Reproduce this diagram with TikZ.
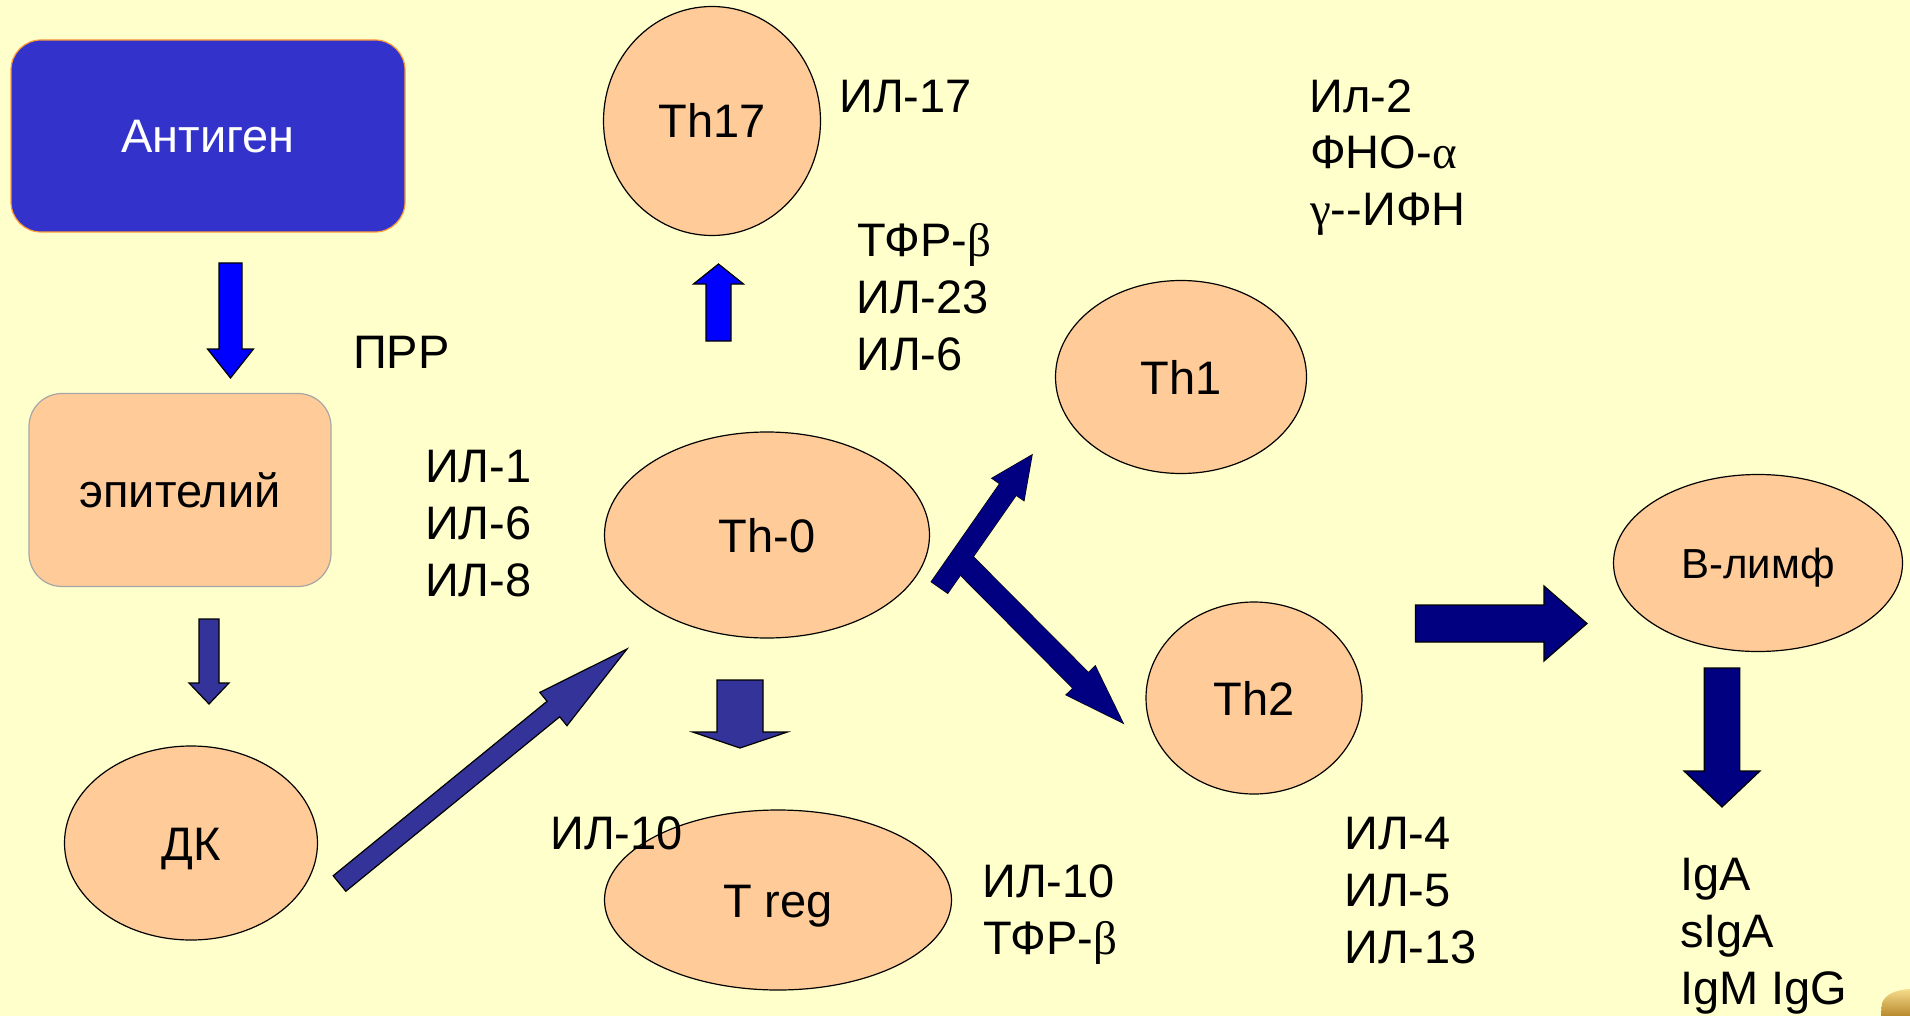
\documentclass[tikz,border=0pt]{standalone}
\usepackage{fontspec}
\setmainfont{Liberation Sans}
\newfontfamily\grk{Liberation Serif}
\usetikzlibrary{calc,shapes.geometric}
\definecolor{bgc}{HTML}{FFFFCC}
\definecolor{cellfill}{HTML}{FFCC99}
\definecolor{antigfill}{HTML}{3333CC}
\definecolor{antigline}{HTML}{FF9933}
\definecolor{epiline}{HTML}{A6A6A6}
\definecolor{brightblue}{HTML}{0000FF}
\definecolor{midblue}{HTML}{333399}
\definecolor{navyc}{HTML}{000080}
\definecolor{goldlight}{HTML}{F6DC8C}
\definecolor{golddark}{HTML}{B8892C}
\newcommand\blockarrow[6]{%
  \path let \p1=($(#3)-(#2)$) in \pgfextra{%
    \pgfmathsetmacro\baAng{atan2(\y1,\x1)}%
    \pgfmathsetmacro\baLen{veclen(\x1,\y1)}%
    \global\let\baAng\baAng\global\let\baLen\baLen};
  \begin{scope}[shift={(#2)},rotate=\baAng]
    \path[#1] (0,-#4/2) -- ({\baLen-#6},-#4/2) -- ({\baLen-#6},-#5/2) -- (\baLen,0)
      -- ({\baLen-#6},#5/2) -- ({\baLen-#6},#4/2) -- (0,#4/2) -- cycle;
  \end{scope}}
\tikzset{
  bigfont/.style={font=\fontsize{47}{57}\selectfont},
  cellnode/.style={ellipse, draw=black, line width=1.2pt, fill=cellfill, inner sep=0pt,
    text height=34pt, text depth=0pt, bigfont},
  boxnode/.style={rectangle, rounded corners=#1, line width=1.2pt, inner sep=0pt,
    text height=34pt, text depth=0pt, bigfont},
  lbl/.style={anchor=base west, inner sep=0pt, bigfont},
  barrow/.style={draw=black, line width=1.2pt, fill=#1},
  barrowfill/.style={fill=#1},
  barrowline/.style={draw=black, line width=1.2pt},
}
\begin{document}
\begin{tikzpicture}[x=1pt,y=-1pt]
\useasboundingbox (0,0) rectangle (1910,1016);
\fill[bgc] (0,0) rectangle (1910,1016);

% boxes
\node[boxnode=30pt, draw=antigline, fill=antigfill, text=white,
  minimum width=394pt, minimum height=192pt] (antigen) at (208,136) {Антиген};
\node[boxnode=33pt, draw=epiline, fill=cellfill,
  minimum width=302pt, minimum height=193pt] (epi) at (180,490) {эпителий};

% cells
\node[cellnode, minimum width=217pt, minimum height=229pt] (th17) at (712,121) {Th17};
\node[cellnode, minimum width=325pt, minimum height=206pt] (th0) at (767,535) {Th-0};
\node[cellnode, minimum width=251pt, minimum height=193pt] (th1) at (1181,377) {Th1};
\node[cellnode, minimum width=216pt, minimum height=192pt] (th2) at (1254,698) {Th2};
\node[cellnode, minimum width=347pt, minimum height=180pt] (treg) at (778,900) {T reg};
\node[cellnode, minimum width=253pt, minimum height=194pt] (dk) at (191,843) {ДК};
\node[cellnode, minimum width=289pt, minimum height=177pt, text height=30pt,
  font=\fontsize{42}{50}\selectfont] (blym) at (1758,563) {В-лимф};

% arrow end points
\coordinate (a1s) at (230.5,263);  \coordinate (a1e) at (230.5,378);
\coordinate (a2s) at (209,619);    \coordinate (a2e) at (209,704);
\coordinate (a3s) at (339.5,883.5);\coordinate (a3e) at (627,649);
\coordinate (a4s) at (740,680);    \coordinate (a4e) at (740,748);
\coordinate (a5s) at (718.5,341);  \coordinate (a5e) at (718.5,264);
\coordinate (a6s) at (939.5,587.5);\coordinate (a6e) at (1032,455);
\coordinate (a7s) at (956,555);    \coordinate (a7e) at (1123,723);
\coordinate (a8s) at (1415.5,623.5);\coordinate (a8e) at (1587,623.5);
\coordinate (a9s) at (1722,668);   \coordinate (a9e) at (1722,807);

\blockarrow{barrow=brightblue}{a1s}{a1e}{23}{46}{29}
\blockarrow{barrow=midblue}{a2s}{a2e}{20}{40}{21}
\blockarrow{barrow=midblue}{a3s}{a3e}{20}{43}{95}
\blockarrow{barrow=midblue}{a4s}{a4e}{46}{95}{16}
\blockarrow{barrow=brightblue}{a5s}{a5e}{25}{50}{20}
\blockarrow{barrowline}{a6s}{a6e}{20}{39}{42}
\blockarrow{barrowline}{a7s}{a7e}{22}{41}{60}
\blockarrow{barrowfill=navyc}{a6s}{a6e}{20}{39}{42}
\blockarrow{barrowfill=navyc}{a7s}{a7e}{22}{41}{60}
\blockarrow{barrow=navyc}{a8s}{a8e}{37}{75}{43}
\blockarrow{barrow=navyc}{a9s}{a9e}{35.5}{76}{36}

% labels
\node[lbl] (ppr) at (353,368) {ПРР};
\node[lbl] (il1) at (425,482) {ИЛ-1};
\node[lbl] (il6a) at (425,539) {ИЛ-6};
\node[lbl] (il8) at (425,596) {ИЛ-8};
\node[lbl] (il17) at (839,113) {ИЛ-17};
\node[lbl] (tfr1) at (857,257) {ТФР-{\grk β}};
\node[lbl] (il23) at (856,313) {ИЛ-23};
\node[lbl] (il6b) at (856,370) {ИЛ-6};
\node[lbl] (il2) at (1309,113) {Ил-2};
\node[lbl] (fno) at (1310,169) {ФНО-{\grk α}};
\node[lbl] (ifn) at (1310,226) {{\grk γ}-\kern0pt-ИФН};
\node[lbl] (il10a) at (550,849) {ИЛ-10};
\node[lbl] (il10b) at (982,897) {ИЛ-10};
\node[lbl] (tfr2) at (983,954) {ТФР-{\grk β}};
\node[lbl] (il4) at (1344,849) {ИЛ-4};
\node[lbl] (il5) at (1344,906) {ИЛ-5};
\node[lbl] (il13) at (1344,963) {ИЛ-13};
\node[lbl] (iga) at (1680,890) {IgA};
\node[lbl] (siga) at (1680,947) {sIgA};
\node[lbl] (igm) at (1680,1004) {IgM IgG};

% corner icon
\shade[top color=goldlight, bottom color=golddark]
  (1881,1016) -- (1882,1003) .. controls (1885,995) and (1894,990) .. (1910,989) -- (1910,1016) -- cycle;
\end{tikzpicture}
\end{document}
